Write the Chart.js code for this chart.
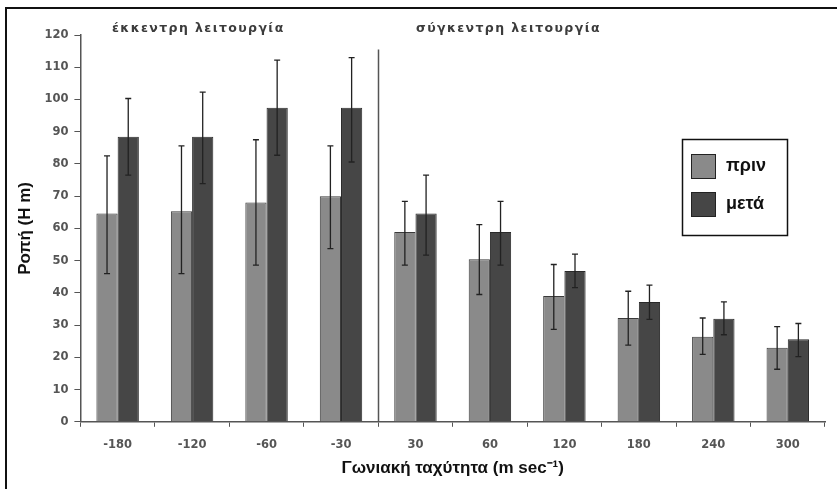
<!DOCTYPE html>
<html>
<head>
<meta charset="utf-8">
<script src="https://cdn.jsdelivr.net/npm/chart.js@4"></script>
<style>
  body { margin: 0; background: #fff; }
  #wrap { position: relative; width: 837px; height: 489px; }
  #frame { position: absolute; left: 5px; top: 7px; right: -2px; bottom: -2px; border: 2px solid #111; pointer-events: none; }
  canvas { position: absolute; left: 0; top: 0; }
</style>
</head>
<body>
<div id="wrap">
  <canvas id="chart" width="837" height="489"></canvas>
  <div id="frame"></div>
</div>
<script>
const categories = ["-180", "-120", "-60", "-30", "30", "60", "120", "180", "240", "300"];
const before = [64.6, 65.3, 68, 70, 58.9, 50.4, 39, 32.2, 26.4, 23];
const beforeLow = [46, 46, 48.6, 53.7, 48.6, 39.5, 28.7, 23.8, 20.9, 16.3];
const beforeHigh = [82.5, 85.6, 87.5, 85.6, 68.4, 61.2, 48.8, 40.5, 32.2, 29.5];
const after = [88.4, 88.4, 97.4, 97.4, 64.6, 58.9, 46.8, 37.2, 32, 25.6];
const afterLow = [76.5, 73.9, 82.7, 80.6, 51.7, 48.6, 41.6, 31.8, 27, 20.2];
const afterHigh = [100.3, 102.3, 112.2, 113, 76.5, 68.4, 52, 42.4, 37.2, 30.5];
const seriesNames = ["πριν", "μετά"];
const sectionNames = ["έκκεντρη λειτουργία", "σύγκεντρη λειτουργία"];

const errors = [[beforeLow, beforeHigh], [afterLow, afterHigh]];
const tickFont = { family: "'DejaVu Sans', sans-serif", size: 11.5, weight: "bold" };
const titleFont = { family: "'Liberation Sans', Arial, sans-serif", size: 17, weight: "bold" };

const extras = {
  id: "extras",
  afterDatasetsDraw(chart) {
    const ctx = chart.ctx;
    const x = chart.scales.x, y = chart.scales.y;
    ctx.save();
    // error bars
    ctx.strokeStyle = "#222";
    ctx.lineWidth = 1.3;
    chart.data.datasets.forEach((ds, di) => {
      const meta = chart.getDatasetMeta(di);
      meta.data.forEach((bar, i) => {
        const lo = y.getPixelForValue(errors[di][0][i]);
        const hi = y.getPixelForValue(errors[di][1][i]);
        ctx.beginPath();
        ctx.moveTo(bar.x, lo); ctx.lineTo(bar.x, hi);
        ctx.moveTo(bar.x - 3, lo); ctx.lineTo(bar.x + 3, lo);
        ctx.moveTo(bar.x - 3, hi); ctx.lineTo(bar.x + 3, hi);
        ctx.stroke();
      });
    });
    // divider between eccentric and concentric
    const dx = Math.round((x.getPixelForValue(3) + x.getPixelForValue(4)) / 2) + 0.5;
    ctx.strokeStyle = "#555";
    ctx.lineWidth = 1.5;
    ctx.beginPath();
    ctx.moveTo(dx, y.getPixelForValue(115.5));
    ctx.lineTo(dx, y.bottom);
    ctx.stroke();
    // section labels
    ctx.fillStyle = "#3c3c3c";
    ctx.font = "bold 12.5px 'DejaVu Sans', sans-serif";
    ctx.letterSpacing = "1.4px";
    ctx.textAlign = "left";
    ctx.textBaseline = "middle";
    ctx.fillText(sectionNames[0], 112, 29);
    ctx.fillText(sectionNames[1], 416, 29);
    ctx.letterSpacing = "0px";
    // legend
    const lx = 682, ly = 139;
    ctx.strokeStyle = "#111";
    ctx.lineWidth = 1.5;
    ctx.strokeRect(lx + 0.5, ly + 0.5, 105, 96);
    ctx.font = "bold 18px 'Liberation Sans', Arial, sans-serif";
    chart.data.datasets.forEach((ds, di) => {
      const sy = ly + 15 + di * 38;
      ctx.fillStyle = ds.backgroundColor;
      ctx.fillRect(lx + 9, sy, 25, 25);
      ctx.strokeStyle = "#222";
      ctx.lineWidth = 1;
      ctx.strokeRect(lx + 9.5, sy + 0.5, 24, 24);
      ctx.fillStyle = "#111";
      ctx.fillText(ds.label, lx + 44, sy + 12);
    });
    ctx.restore();
  }
};

new Chart(document.getElementById("chart").getContext("2d"), {
  type: "bar",
  data: {
    labels: categories,
    datasets: [
      { label: seriesNames[0], data: before, backgroundColor: "#8a8a8a", borderColor: "#3a3a3a", borderWidth: 1 },
      { label: seriesNames[1], data: after, backgroundColor: "#464646", borderColor: "#2a2a2a", borderWidth: 1 }
    ]
  },
  options: {
    responsive: false,
    animation: false,
    layout: { padding: { left: 11, right: 12, top: 35, bottom: 10 } },
    datasets: { bar: { barPercentage: 1.0, categoryPercentage: 0.57 } },
    plugins: { legend: { display: false }, tooltip: { enabled: false } },
    scales: {
      x: {
        grid: { drawOnChartArea: false, color: "#555", tickLength: 5 },
        border: { color: "#555", width: 1.5 },
        ticks: { color: "#555", font: tickFont, padding: 11 },
        title: { display: true, text: "Γωνιακή ταχύτητα (m sec⁻¹)", color: "#111", font: titleFont, padding: { top: -4, bottom: 0 } }
      },
      y: {
        min: 0, max: 120,
        grid: { drawOnChartArea: false, color: "#555", tickLength: 6 },
        border: { color: "#555", width: 1.5 },
        ticks: { stepSize: 10, color: "#555", font: tickFont, padding: 6 },
        title: { display: true, text: "Ροπή (Η m)", color: "#111", font: titleFont, padding: { bottom: 3 } }
      }
    }
  },
  plugins: [extras]
});
</script>
</body>
</html>
